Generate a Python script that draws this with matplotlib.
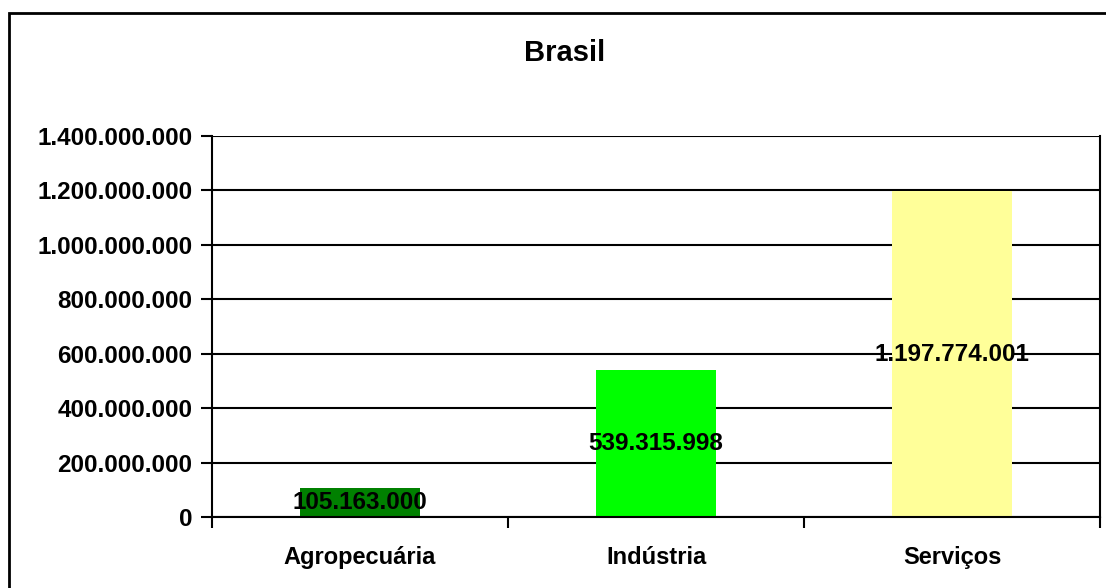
import matplotlib

matplotlib.use("Agg")

import matplotlib.pyplot as plt  # noqa: E402
from matplotlib.patches import Rectangle  # noqa: E402
from matplotlib.ticker import FuncFormatter, MultipleLocator  # noqa: E402

# Données
categories = ["Agropecuária", "Indústria", "Serviços"]
valeurs = [105163000, 539315998, 1197774001]
couleurs = ["#008000", "#00FF00", "#FFFF99"]
titre = "Brasil"


def fmt_br(v, _pos=None):
    return f"{v:,.0f}".replace(",", ".")


plt.rcParams["font.family"] = ["Liberation Sans", "DejaVu Sans"]
plt.rcParams["font.weight"] = "bold"

fig = plt.figure(figsize=(11.06, 5.88), dpi=100)
ax = fig.add_axes([212 / 1106, 1 - 517 / 588, (1100 - 212) / 1106, (517 - 136) / 588])

x = range(len(categories))
bars = ax.bar(x, valeurs, width=0.405, color=couleurs, zorder=2)

ax.set_xlim(-0.5, len(categories) - 0.5)
ax.set_ylim(0, 1.4e9)
ax.yaxis.set_major_locator(MultipleLocator(2e8))
ax.yaxis.set_major_formatter(FuncFormatter(fmt_br))
ax.grid(axis="y", color="black", lw=1.5, zorder=1)

ax.set_xticks(list(x))
ax.set_xticklabels(categories, fontsize=17, fontweight="bold")
ax.set_xticks([i - 0.5 for i in range(len(categories) + 1)], minor=True)
ax.tick_params(axis="x", which="major", length=0, pad=21)
ax.tick_params(axis="x", which="minor", length=8, width=1.5, direction="out")
ax.tick_params(axis="y", length=8, width=1.5, direction="out", labelsize=17.5, pad=6)
for lab in ax.get_yticklabels():
    lab.set_fontweight("bold")

for s in ax.spines.values():
    s.set_linewidth(1.5)
ax.spines["top"].set_visible(False)

for b, v in zip(bars, valeurs):
    ax.text(b.get_x() + b.get_width() / 2, v / 2, fmt_br(v),
            ha="center", va="center", fontsize=17.5, fontweight="bold", zorder=3)

fig.text(565 / 1106, 1 - 53 / 588, titre, ha="center", va="center",
         fontsize=21, fontweight="bold")

# cadre extérieur (coupé à droite et en bas)
fig.patches.append(Rectangle((9 / 1106, -0.1), 1.2, 1 - 13 / 588 + 0.1,
                             transform=fig.transFigure, fill=False,
                             edgecolor="black", lw=2))

fig.savefig("out.png", dpi=100)
plt.close(fig)
